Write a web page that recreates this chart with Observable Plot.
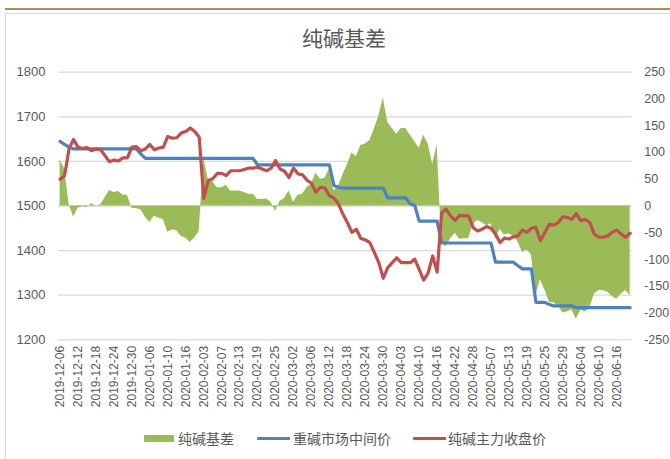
<!DOCTYPE html>
<html><head><meta charset="utf-8">
<script src="https://cdn.jsdelivr.net/npm/d3@7"></script>
<script src="https://cdn.jsdelivr.net/npm/@observablehq/plot@0.6"></script>
<style>
body{margin:0;background:#fff;}
#wrap{position:relative;width:670px;height:459px;overflow:hidden;background:#fff;font-family:"Noto Sans CJK SC","Liberation Sans",sans-serif;color:#595959;}
#topline{position:absolute;left:5px;top:8px;width:670px;height:2px;background:#a8905a;}
#frame{position:absolute;left:5px;top:13px;width:680px;height:460px;border-left:1px solid #d9d9d9;border-top:1px solid #d9d9d9;}
#title{position:absolute;left:0;top:22px;width:688px;text-align:center;font-size:21px;line-height:30px;color:#595959;}
#chart{position:absolute;left:0;top:55px;}
.lg{position:absolute;font-size:14px;line-height:20px;top:428px;color:#595959;white-space:nowrap;}
.sw{position:absolute;}
</style></head>
<body>
<div id="wrap">
  <div id="topline"></div>
  <div id="frame"></div>
  <div id="title">纯碱基差</div>
  <div id="chart"></div>
  <div class="sw" style="left:144px;top:435px;width:30px;height:7px;background:#9BBB59"></div>
  <div class="lg" style="left:178px">纯碱基差</div>
  <div class="sw" style="left:257px;top:437px;width:33px;height:3px;background:#4F81BD;border-radius:1px"></div>
  <div class="lg" style="left:293px">重碱市场中间价</div>
  <div class="sw" style="left:413px;top:437px;width:33px;height:3px;background:#C0504D;border-radius:1px"></div>
  <div class="lg" style="left:448px">纯碱主力收盘价</div>
</div>
<script>
const dates = [
"2019-12-06","2019-12-09","2019-12-10","2019-12-11","2019-12-12","2019-12-13","2019-12-16","2019-12-17",
"2019-12-18","2019-12-19","2019-12-20","2019-12-23","2019-12-24","2019-12-25","2019-12-26","2019-12-27",
"2019-12-30","2019-12-31","2020-01-02","2020-01-03","2020-01-06","2020-01-07","2020-01-08","2020-01-09",
"2020-01-10","2020-01-13","2020-01-14","2020-01-15","2020-01-16","2020-01-17","2020-01-20","2020-01-21",
"2020-02-03","2020-02-04","2020-02-05","2020-02-06","2020-02-07","2020-02-10","2020-02-11","2020-02-12",
"2020-02-13","2020-02-14","2020-02-17","2020-02-18","2020-02-19","2020-02-20","2020-02-21","2020-02-24",
"2020-02-25","2020-02-26","2020-02-27","2020-02-28","2020-03-02","2020-03-03","2020-03-04","2020-03-05",
"2020-03-06","2020-03-09","2020-03-10","2020-03-11","2020-03-12","2020-03-13","2020-03-16","2020-03-17",
"2020-03-18","2020-03-19","2020-03-20","2020-03-23","2020-03-24","2020-03-25","2020-03-26","2020-03-27",
"2020-03-30","2020-03-31","2020-04-01","2020-04-02","2020-04-03","2020-04-07","2020-04-08","2020-04-09",
"2020-04-10","2020-04-13","2020-04-14","2020-04-15","2020-04-16","2020-04-17","2020-04-20","2020-04-21",
"2020-04-22","2020-04-23","2020-04-24","2020-04-27","2020-04-28","2020-04-29","2020-04-30","2020-05-06",
"2020-05-07","2020-05-08","2020-05-11","2020-05-12","2020-05-13","2020-05-14","2020-05-15","2020-05-18",
"2020-05-19","2020-05-20","2020-05-21","2020-05-22","2020-05-25","2020-05-26","2020-05-27","2020-05-28",
"2020-05-29","2020-06-01","2020-06-02","2020-06-03","2020-06-04","2020-06-05","2020-06-08","2020-06-09",
"2020-06-10","2020-06-11","2020-06-12","2020-06-15","2020-06-16","2020-06-17","2020-06-18","2020-06-19"
];
// 重碱市场中间价 (left axis)
const spotPrice = [
1645,1638,1632,1628,1628,1628,1628,1628,
1628,1628,1628,1628,1628,1628,1628,1628,
1628,1628,1617,1607,1607,1607,1607,1607,
1607,1607,1607,1607,1607,1607,1607,1607,
1607,1607,1607,1607,1607,1607,1607,1607,
1607,1607,1607,1607,1592,1592,1592,1592,
1592,1592,1592,1592,1592,1592,1592,1592,
1592,1592,1592,1592,1592,1546,1542,1540,
1540,1540,1540,1540,1540,1540,1540,1540,
1540,1518,1518,1518,1518,1518,1505,1501,
1466,1466,1466,1466,1466,1417,1417,1417,
1417,1417,1417,1417,1417,1417,1417,1417,
1417,1374,1374,1374,1374,1374,1366,1359,
1359,1359,1284,1284,1284,1279,1276,1276,
1276,1276,1276,1272,1272,1272,1272,1272,
1272,1272,1272,1272,1272,1272,1272,1272
];
// 纯碱主力收盘价 (left axis)
const futuresClose = [
1560,1568,1628,1649,1632,1629,1631,1624,
1628,1626,1613,1599,1603,1601,1608,1608,
1632,1633,1624,1628,1638,1626,1630,1632,
1656,1652,1653,1664,1667,1675,1667,1654,
1517,1557,1561,1573,1573,1568,1579,1579,
1579,1582,1585,1585,1587,1583,1579,1585,
1602,1583,1578,1564,1585,1572,1570,1558,
1551,1531,1542,1540,1523,1518,1505,1482,
1463,1441,1448,1427,1424,1418,1396,1373,
1338,1362,1373,1384,1373,1373,1373,1381,
1358,1334,1350,1388,1352,1485,1493,1478,
1468,1479,1478,1478,1452,1444,1448,1454,
1450,1437,1418,1428,1426,1431,1433,1446,
1441,1450,1452,1422,1441,1459,1457,1463,
1476,1474,1470,1483,1467,1470,1463,1437,
1430,1430,1433,1441,1446,1437,1430,1439
];
// 纯碱基差 (right axis)
const basisValues = [
85,70,4,-21,-4,-1,-3,4,
0,2,15,29,25,27,20,20,
-4,-5,-7,-21,-31,-19,-23,-25,
-49,-45,-46,-57,-60,-68,-60,-47,
90,50,46,34,34,39,28,28,
28,25,22,22,12,12,13,7,
-10,9,14,28,7,20,22,34,
41,61,50,52,69,28,37,58,
77,99,92,113,116,122,144,167,
202,156,145,134,145,145,132,120,
108,132,116,78,114,-68,-76,-61,
-51,-62,-61,-61,-35,-27,-31,-37,
-33,-63,-44,-54,-52,-57,-67,-87,
-82,-91,-168,-138,-157,-180,-181,-187,
-200,-198,-194,-211,-195,-198,-191,-165,
-158,-158,-161,-169,-174,-165,-158,-167
];
const tickLabels = ["2019-12-06","2019-12-12","2019-12-18","2019-12-24","2019-12-30","2020-01-06","2020-01-10","2020-01-16",
"2020-02-03","2020-02-07","2020-02-13","2020-02-19","2020-02-25","2020-03-02","2020-03-06","2020-03-12",
"2020-03-18","2020-03-24","2020-03-30","2020-04-03","2020-04-10","2020-04-16","2020-04-22","2020-04-28",
"2020-05-07","2020-05-13","2020-05-19","2020-05-25","2020-05-29","2020-06-04","2020-06-10","2020-06-16"];
const leftTicks = [1200,1300,1400,1500,1600,1700,1800];
const rightTicks = [-250,-200,-150,-100,-50,0,50,100,150,200,250];

// right axis (-250..250) shares the frame with the left axis (1200..1800)
const toLeft = v => 1500 + v * 1.2;
const fromLeft = y => Math.round((y - 1500) / 1.2);

const rows = dates.map((d, i) => ({i, date: d, spot: spotPrice[i], fut: futuresClose[i], basis: basisValues[i]}));
const tickIdx = tickLabels.map(t => dates.indexOf(t));

const chart = Plot.plot({
  width: 670,
  height: 365,
  marginLeft: 58,
  marginRight: 38.3,
  marginTop: 16.7,
  marginBottom: 80.7,
  x: {type: "linear", domain: [-0.35, 127.45], axis: null},
  y: {domain: [1200, 1800], axis: null},
  style: {fontFamily: "'Liberation Sans', Arial, sans-serif", color: "#595959", background: "transparent"},
  marks: [
    Plot.ruleY(leftTicks, {stroke: "#d9d9d9", strokeWidth: 1.3}),
    Plot.areaY(rows, {x: "i", y1: d => 1500, y2: d => toLeft(d.basis), fill: "#9BBB59", fillOpacity: 1}),
    Plot.lineY(rows, {x: "i", y: "spot", stroke: "#4F81BD", strokeWidth: 3.2, strokeLinejoin: "round"}),
    Plot.lineY(rows, {x: "i", y: "fut", stroke: "#C0504D", strokeWidth: 3.2, strokeLinejoin: "round"}),
    Plot.axisY({ticks: leftTicks, anchor: "left", tickSize: 0, tickPadding: 13, fontSize: 13, fill: "#595959",
      tickFormat: d => String(d), label: null}),
    Plot.axisY({ticks: rightTicks.map(toLeft), anchor: "right", tickSize: 0, tickPadding: 12, fontSize: 12.5, fill: "#595959",
      tickFormat: d => String(fromLeft(d)), label: null}),
    Plot.axisX({ticks: tickIdx, anchor: "bottom", tickSize: 0, tickPadding: 6, tickRotate: -90, fontSize: 12, fill: "#595959",
      tickFormat: i => dates[i], label: null})
  ]
});
document.getElementById("chart").appendChild(chart);
</script>
</body></html>
